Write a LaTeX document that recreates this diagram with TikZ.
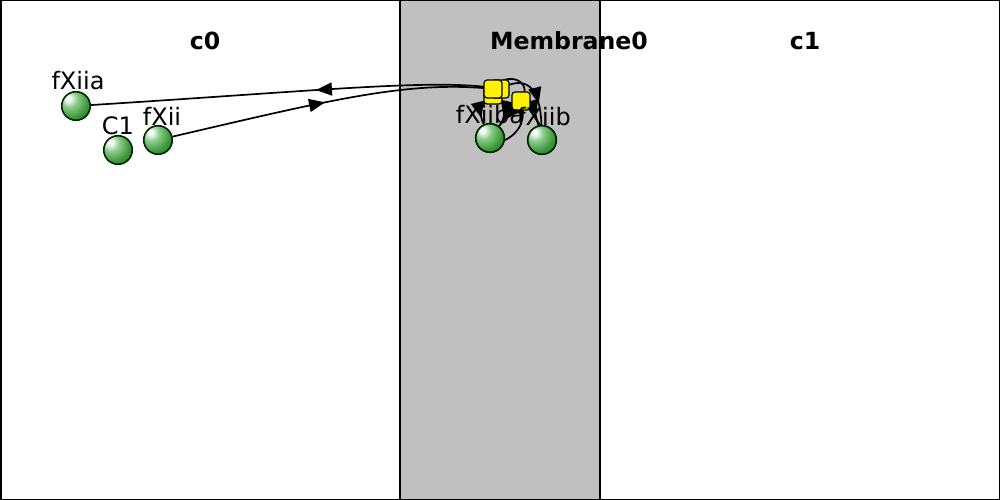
\documentclass[tikz,border=0pt]{standalone}
\usepackage{fontspec}
\setmainfont{DejaVu Sans}
\usetikzlibrary{decorations.markings,arrows.meta}
\definecolor{memgray}{RGB}{192,192,192}
\definecolor{balledge}{RGB}{0,40,0}
\definecolor{gA}{RGB}{250,252,250}
\definecolor{gB}{RGB}{140,205,140}
\definecolor{gC}{RGB}{60,150,60}
\definecolor{gD}{RGB}{20,110,20}
\definecolor{gE}{RGB}{0,80,0}
\pgfdeclareradialshading{sball}{\pgfpoint{-14bp}{14bp}}{color(0bp)=(gA); color(4bp)=(gA); color(14bp)=(gB); color(30bp)=(gC); color(48bp)=(gD); color(62bp)=(gE); color(100bp)=(gE)}
\begin{document}
\begin{tikzpicture}[x=1pt,y=-1pt,
  species/.style={circle,minimum size=28.5pt,inner sep=0pt,shading=sball,draw=balledge,line width=1.6pt},
  proc/.style={rectangle,minimum size=18pt,inner sep=0pt,fill=yellow,draw=black,line width=1.2pt,rounded corners=3pt},
  lbl/.style={font=\fontsize{24}{26}\selectfont,inner sep=0pt,anchor=base},
  ttl/.style={font=\fontsize{23.6}{26}\selectfont\bfseries,inner sep=0pt,anchor=base},
  edge/.style={line width=1.7pt,draw=black},
  midarrow/.style={postaction={decorate},decoration={markings,mark=at position #1 with {\arrow{Triangle[length=16pt,width=13pt]}}}},
]
\useasboundingbox (0,0) rectangle (1000,500);
% compartments
\fill[memgray] (400,0) rectangle (600,500);
\draw[line width=1.5pt] (0.75,0.75) rectangle (999.25,499.25);
\draw[line width=1.5pt] (400,0) -- (400,500);
\draw[line width=1.5pt] (600,0) -- (600,500);
\node[ttl] (tc0) at (205,50) {c0};
\node[ttl] (tmem) at (569,50) {Membrane0};
\node[ttl] (tc1) at (805,50) {c1};
% species
\node[species] (fXiia) at (76,106) {};
\node[species] (C1) at (118,150) {};
\node[species] (fXii) at (158,140) {};
\node[species] (fXiiba) at (490,138) {};
\node[species] (fXiib) at (542,140) {};
% process nodes (positions)
\coordinate (P1c) at (493,89);
\coordinate (P2c) at (500,89);
\coordinate (P3c) at (493,95);
\coordinate (P4c) at (521,101);
% edges
\draw[edge,midarrow=0.48] (fXii) .. controls (330,100) and (410,80) .. (P1c);
\draw[edge,midarrow=0.45] (P2c) .. controls (440,78) and (330,90) .. (fXiia);
\draw[edge,midarrow=0.8] (P3c) .. controls (480,105) and (478,112) .. (fXiiba);
\draw[edge,midarrow=0.75] (P1c) .. controls (505,100) and (508,115) .. (fXiiba);
\draw[edge,midarrow=0.7] (P2c) .. controls (525,75) and (540,85) .. (fXiib);
\draw[edge] (fXiiba) .. controls (505,140) and (530,130) .. (P4c);
\draw[edge,midarrow=0.8] (P4c) .. controls (512,110) and (505,118) .. (fXiiba);
\draw[edge,midarrow=0.75] (P4c) .. controls (528,92) and (532,100) .. (fXiib);
\draw[edge] (P1c) .. controls (505,70) and (535,80) .. (P4c);
% process squares on top
\node[proc] (P3) at (P3c) {};
\node[proc] (P2) at (P2c) {};
\node[proc] (P1) at (P1c) {};
\node[proc] (P4) at (P4c) {};
% redraw species on top
\node[species] at (fXiiba) {};
\node[species] at (fXiib) {};
% labels
\node[lbl] (lfXiia) at (78,90) {fXiia};
\node[lbl] (lC1) at (118,135) {C1};
\node[lbl] (lfXii) at (162,125) {fXii};
\node[lbl] (lfXiiba) at (490,124) {fXiiba};
\node[lbl] (lfXiib) at (544,125) {fXiib};
\end{tikzpicture}
\end{document}
